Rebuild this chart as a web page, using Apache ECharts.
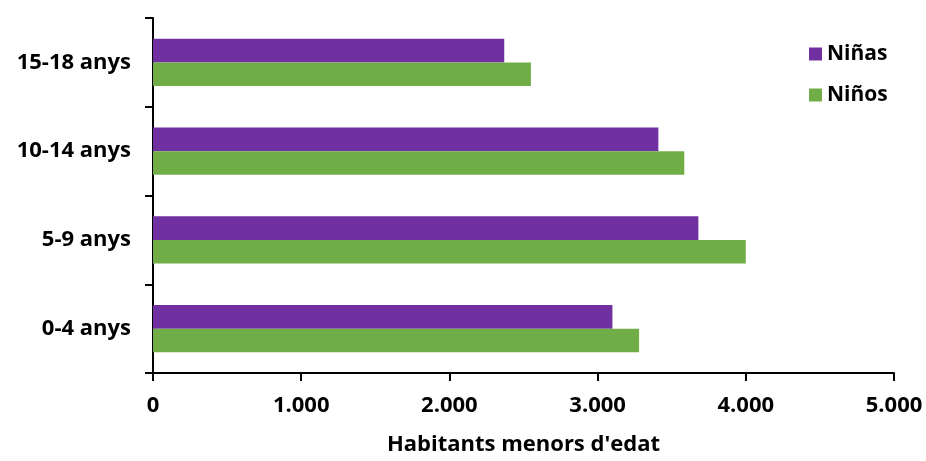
<!DOCTYPE html>
<html>
<head>
<meta charset="utf-8">
<script src="https://cdn.jsdelivr.net/npm/echarts@6/dist/echarts.min.js"></script>
<style>html,body{margin:0;padding:0;background:#fff}#c{width:926px;height:461px}</style>
</head>
<body>
<div id="c"></div>
<script>
const categories = ['0-4 anys', '5-9 anys', '10-14 anys', '15-18 anys'];
const ninas = [3100, 3680, 3410, 2370];
const ninos = [3280, 4000, 3585, 2550];
const seriesNames = ['Niñas', 'Niños'];
const axisName = "Habitants menors d'edat";

const font = '"Open Sans", "Liberation Sans", sans-serif';
const chart = echarts.init(document.getElementById('c'));
chart.setOption({
  animation: false,
  textStyle: { fontFamily: font },
  grid: { left: 153, right: 32, top: 18, bottom: 84, containLabel: false },
  legend: {
    data: seriesNames,
    orient: 'vertical',
    left: 804,
    top: 36,
    itemWidth: 13,
    itemHeight: 13,
    itemGap: 15,
    icon: 'rect',
    textStyle: { fontSize: 21, fontWeight: 'bold', color: '#000', fontFamily: font, lineHeight: 26 }
  },
  xAxis: {
    type: 'value',
    min: 0, max: 5000, interval: 1000,
    name: axisName,
    nameLocation: 'middle',
    nameGap: 61,
    nameTextStyle: { fontSize: 22, fontWeight: 'bold', color: '#000', fontFamily: font },
    axisLine: { show: true, lineStyle: { color: '#000', width: 2 } },
    axisTick: { show: true, length: 8, lineStyle: { color: '#000', width: 2 } },
    splitLine: { show: false },
    axisLabel: {
      fontSize: 22, fontWeight: 'bold', color: '#000', fontFamily: font, margin: 22,
      formatter: v => v === 0 ? '0' : (v / 1000).toFixed(0) + '.' + String(v % 1000).padStart(3, '0')
    }
  },
  yAxis: {
    type: 'category',
    data: categories,
    axisLine: { show: true, lineStyle: { color: '#000', width: 2 } },
    axisTick: { show: true, length: 8, lineStyle: { color: '#000', width: 2 } },
    axisLabel: { fontSize: 22, fontWeight: 'bold', color: '#000', fontFamily: font, margin: 22 }
  },
  series: [
    { name: seriesNames[0], type: 'bar', data: ninas, itemStyle: { color: '#7030A0' }, barGap: '0%', barCategoryGap: '47%' },
    { name: seriesNames[1], type: 'bar', data: ninos, itemStyle: { color: '#70AD47' }, barGap: '0%', barCategoryGap: '47%' }
  ]
});
</script>
</body>
</html>
